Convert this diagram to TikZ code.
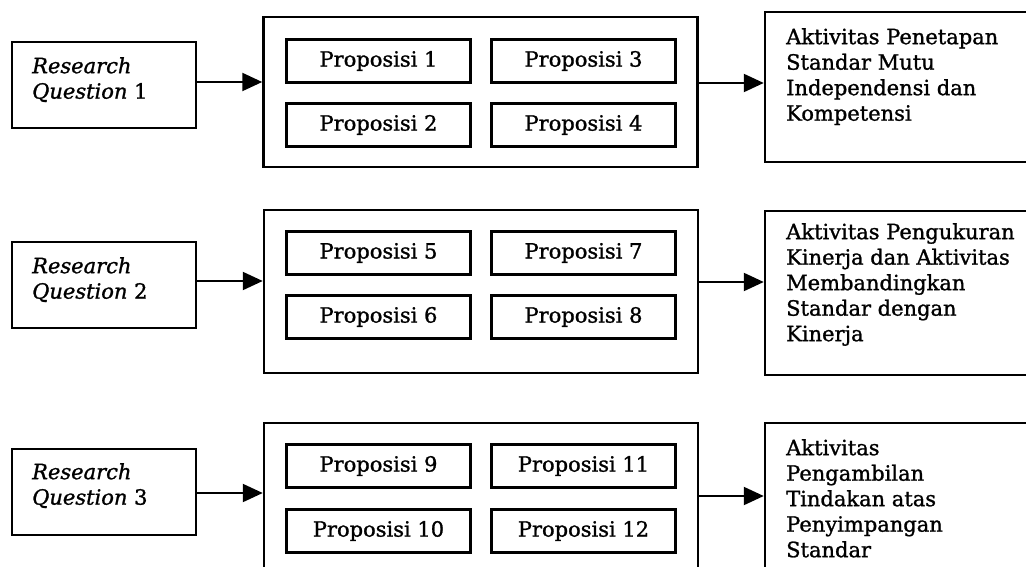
\documentclass[tikz,border=0pt]{standalone}
\usepackage{fontspec}
\setmainfont{DejaVu Serif}[FakeBold=1.2]
\usetikzlibrary{arrows.meta}
\begin{document}
\begin{tikzpicture}[x=1pt,y=-1pt,
  every node/.style={font=\fontsize{21}{25.5}\selectfont},
  box/.style={draw, line width=2.5pt, inner sep=0pt},
  rqbox/.style={box, minimum width=184pt, minimum height=86pt},
  bigbox/.style={box, minimum width=434pt},
  propbox/.style={draw, line width=2.3pt, inner sep=0pt, minimum width=184pt, minimum height=43pt},
  outbox/.style={box, minimum width=280pt},
  txt/.style={anchor=north west, align=left, inner sep=0pt},
  arr/.style={line width=2.2pt, -{Triangle[length=20pt,width=18pt]}}]
\useasboundingbox (0,0) rectangle (1026,567);

% ---------- Row 1 ----------
\node[rqbox] (rq1) at (104,85) {};
\node[txt] (rq1t) at (32,57) {\textit{Research}\\\textit{Question} 1};
\node[bigbox, minimum height=150pt] (big1) at (480.5,92) {};
\node[propbox] (p1) at (378.5,61) {Proposisi 1};
\node[propbox] (p3) at (583.5,61) {Proposisi 3};
\node[propbox] (p2) at (378.5,125) {Proposisi 2};
\node[propbox] (p4) at (583.5,125) {Proposisi 4};
\node[outbox, minimum height=150pt] (r1) at (905,87) {};
\node[txt] (r1t) at (786,28) {Aktivitas Penetapan\\Standar Mutu\\Independensi dan\\Kompetensi};
\coordinate (a1) at (0,82);
\coordinate (b1) at (0,83);
\draw[arr] (rq1.east |- a1) -- (big1.west |- a1);
\draw[arr] (big1.east |- b1) -- (r1.west |- b1);

% ---------- Row 2 ----------
\node[rqbox] (rq2) at (104,285) {};
\node[txt] (rq2t) at (32,257) {\textit{Research}\\\textit{Question} 2};
\node[bigbox, minimum height=163pt] (big2) at (481,291.5) {};
\node[propbox] (p5) at (378.5,253) {Proposisi 5};
\node[propbox] (p7) at (583.5,253) {Proposisi 7};
\node[propbox] (p6) at (378.5,317) {Proposisi 6};
\node[propbox] (p8) at (583.5,317) {Proposisi 8};
\node[outbox, minimum height=164pt] (r2) at (905,293) {};
\node[txt] (r2t) at (786,223) {Aktivitas Pengukuran\\Kinerja dan Aktivitas\\Membandingkan\\Standar dengan\\Kinerja};
\coordinate (a2) at (0,281);
\coordinate (b2) at (0,282);
\draw[arr] (rq2.east |- a2) -- (big2.west |- a2);
\draw[arr] (big2.east |- b2) -- (r2.west |- b2);

% ---------- Row 3 ----------
\node[rqbox] (rq3) at (104,492) {};
\node[txt] (rq3t) at (32,463) {\textit{Research}\\\textit{Question} 3};
\node[bigbox, minimum height=163pt] (big3) at (481,504.5) {};
\node[propbox] (p9) at (378.5,466) {Proposisi 9};
\node[propbox] (p11) at (583.5,466) {Proposisi 11};
\node[propbox] (p10) at (378.5,531) {Proposisi 10};
\node[propbox] (p12) at (583.5,531) {Proposisi 12};
\node[outbox, minimum height=167pt] (r3) at (905,506.5) {};
\node[txt] (r3t) at (786,439) {Aktivitas\\Pengambilan\\Tindakan atas\\Penyimpangan\\Standar};
\coordinate (a3) at (0,493);
\coordinate (b3) at (0,496);
\draw[arr] (rq3.east |- a3) -- (big3.west |- a3);
\draw[arr] (big3.east |- b3) -- (r3.west |- b3);
\end{tikzpicture}
\end{document}
